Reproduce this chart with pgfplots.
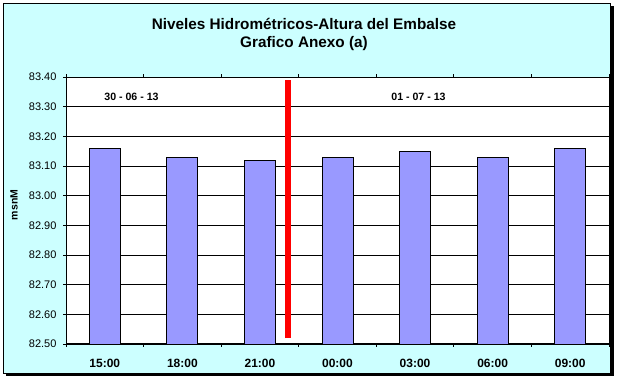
\documentclass[border=0pt]{standalone}
\usepackage{fontspec}
\setmainfont{Liberation Sans}
\usepackage{pgfplots}
\pgfplotsset{compat=1.18}
\definecolor{bgc}{HTML}{CCFFFF}
\definecolor{barc}{HTML}{9999FF}
\begin{document}
\begin{tikzpicture}[x=1pt,y=1pt]
\useasboundingbox (0,0) rectangle (619,383);
\fill[black] (6,7) rectangle (613.5,377);
\fill[bgc,draw=black,line width=0.8pt] (3,10) rectangle (610,380);
\node[anchor=base,font=\bfseries\fontsize{15.3}{16}\selectfont] at (304,353) {Niveles Hidrométricos-Altura del Embalse};
\node[anchor=base,font=\bfseries\fontsize{15.3}{16}\selectfont] at (304,335) {Grafico Anexo (a)};
\begin{axis}[
  at={(66pt,39pt)}, anchor=south west, scale only axis,
  width=543pt, height=267pt,
  xmin=-0.5, xmax=6.5, ymin=82.5, ymax=83.4,
  axis background/.style={fill=white},
  axis line style={line width=1pt},
  ymajorgrids, grid style={black, line width=0.7pt},
  tick align=outside, major tick length=3pt,
  tick style={black, line width=0.8pt},
  ytick={82.5,82.6,82.7,82.8,82.9,83.0,83.1,83.2,83.3,83.4},
  yticklabel style={/pgf/number format/fixed, /pgf/number format/fixed zerofill, /pgf/number format/precision=2, /pgf/number format/assume math mode=true, font=\fontsize{11}{11}\selectfont, xshift=-3pt},
  xtick={-0.5,0.5,...,6.5}, xticklabels={},
  extra x ticks={0,1,2,3,4,5,6},
  extra x tick labels={15:00,18:00,21:00,00:00,03:00,06:00,09:00},
  extra x tick style={major tick length=0pt, tick label style={font=\bfseries\fontsize{12}{12}\selectfont, yshift=-12pt}},
]
\addplot[ybar, bar width=31pt, fill=barc, draw=black, line width=0.8pt] coordinates {
  (0,83.16) (1,83.13) (2,83.12) (3,83.13) (4,83.15) (5,83.13) (6,83.16)};
\addplot[red, line width=5.5pt, sharp plot] coordinates {(2.36,82.52) (2.36,83.39)};
\node[font=\bfseries\fontsize{10.6}{10.6}\selectfont] at (axis cs:0.344,83.333) {30 - 06 - 13};
\node[font=\bfseries\fontsize{10.6}{10.6}\selectfont] at (axis cs:4.044,83.333) {01 - 07 - 13};
\end{axis}
\node[rotate=90, font=\bfseries\fontsize{10.5}{10.5}\selectfont] at (14,178) {msnM};
\end{tikzpicture}
\end{document}
